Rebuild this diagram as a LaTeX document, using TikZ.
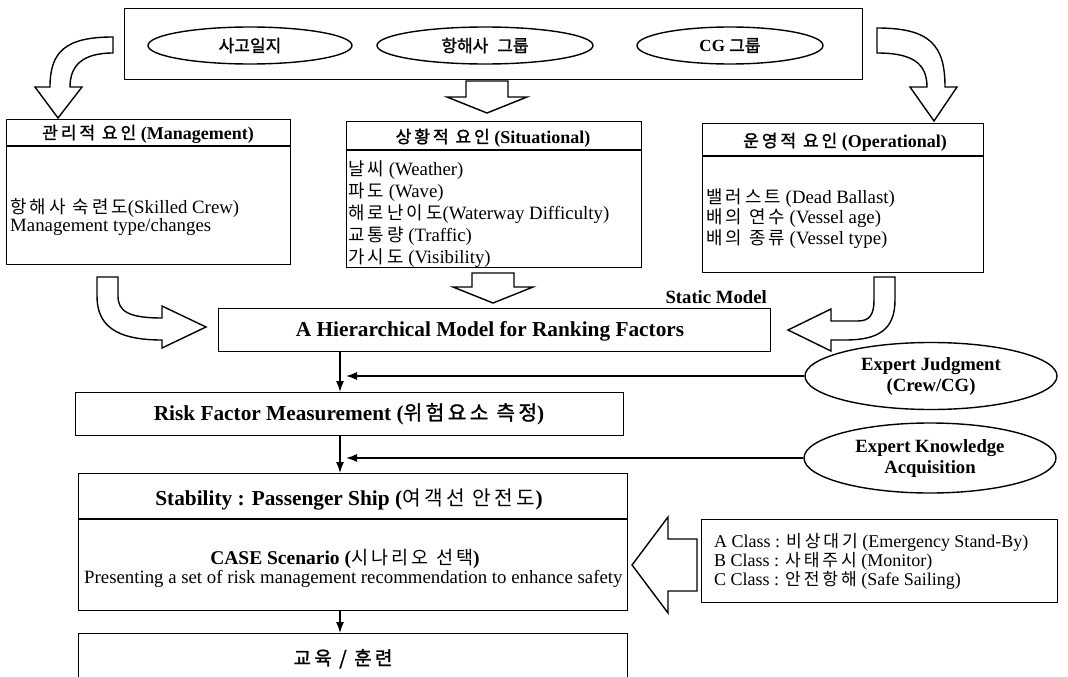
\documentclass[tikz,border=0pt]{standalone}
\usepackage{fontspec}
\setmainfont{Liberation Serif}
\newfontfamily\hangul[Scale=0.95,LetterSpace=17]{Noto Sans CJK KR}
\newfontfamily\hangulbold[Scale=0.95,LetterSpace=17,FakeBold=1.5]{Noto Sans CJK KR}
\newfontfamily\hangultight[FakeBold=1.5]{Noto Sans CJK KR}
\newcommand\ko[1]{{\hangul\mdseries #1}}
\newcommand\kob[1]{{\hangulbold\mdseries #1}}
\newcommand\kot[1]{{\hangultight\mdseries #1}}
\usetikzlibrary{arrows.meta,shapes.geometric}
\tikzset{
  frame/.style 2 args={draw, line width=1.4pt, rectangle, inner sep=0pt,
    anchor=north west, minimum width=#1pt, minimum height=#2pt},
  rule/.style={line width=1.4pt},
  hollow/.style={draw, fill=white, line width=1.4pt, line join=miter},
  link/.style={line width=1.3pt, -{Latex[length=11pt,width=8pt]}},
  oval/.style={draw, ellipse, line width=1.4pt, inner sep=0pt},
  txt/.style={inner sep=0pt, anchor=base west, font=\fontsize{18.8}{21}\selectfont},
  hdr/.style={inner sep=0pt, anchor=base, font=\bfseries\fontsize{18}{20}\selectfont},
  heading/.style={inner sep=0pt, anchor=base, font=\bfseries\fontsize{21.3}{23}\selectfont},
  srclabel/.style={font=\bfseries\fontsize{17}{18}\selectfont},
  expert/.style={oval, align=center, font=\bfseries\fontsize{18.7}{21}\selectfont},
  classline/.style={txt, font=\fontsize{18}{19}\selectfont},
}
\begin{document}
\begin{tikzpicture}[x=1pt,y=-1pt]
\useasboundingbox (0,0) rectangle (1068,677);

% ---- data sources ----
\node[frame={738}{71}] (src) at (124,8) {};
\node[oval, srclabel, minimum width=204pt, minimum height=37pt] (log) at (250,45.5) {\kot{사고일지}};
\node[oval, srclabel, minimum width=216pt, minimum height=37pt] (crew) at (485,45.5) {\kot{항해사\hspace{9pt}그룹}};
\node[oval, srclabel, minimum width=186pt, minimum height=37pt] (cg) at (730,45.5) {CG \kot{그룹}};

% ---- hollow arrows from the sources to the factor groups ----
\draw[hollow] (113,53) -- (113,37) .. controls (65,37) and (50,52) .. (50,87)
  -- (35,87) -- (58,118) -- (82,87) -- (70,87) .. controls (70,66) and (82,53) .. (113,53) -- cycle;
\draw[hollow] (877,53) -- (877,28) .. controls (930,28) and (945,45) .. (945,87)
  -- (957,87) -- (934,121) -- (910,87) -- (927,87) .. controls (927,63) and (912,53) .. (877,53) -- cycle;
\draw[hollow] (466,81) -- (508,81) -- (508,97) -- (527,97) -- (487,113) -- (447,97) -- (466,97) -- cycle;

% ---- factor groups ----
\node[frame={284}{145}] (mgmt) at (6,119) {};
\draw[rule] (mgmt.west |- 0,146) -- (mgmt.east |- 0,146);
\node[hdr] (mgmtH) at (148,139) {\kob{관리적 요인} (Management)};
\node[txt] (mgmt1) at (10,213.5) {\ko{항해사 숙련도}(Skilled Crew)};
\node[txt] (mgmt2) at (10,231.5) {Management type/changes};

\node[frame={295}{146}] (sit) at (346,121) {};
\draw[rule] (sit.west |- 0,150) -- (sit.east |- 0,150);
\node[hdr] (sitH) at (493,143) {\kob{상황적 요인} (Situational)};
\node[txt] (sit1) at (348,175.5) {\ko{날씨} (Weather)};
\node[txt] (sit2) at (348,197.5) {\ko{파도} (Wave)};
\node[txt] (sit3) at (348,219.5) {\ko{해로난이도}(Waterway Difficulty)};
\node[txt] (sit4) at (348,241.5) {\ko{교통량} (Traffic)};
\node[txt] (sit5) at (348,263.5) {\ko{가시도} (Visibility)};

\node[frame={281}{149}] (ops) at (702,123) {};
\draw[rule] (ops.west |- 0,156) -- (ops.east |- 0,156);
\node[hdr] (opsH) at (845,147) {\kob{운영적 요인} (Operational)};
\node[txt] (ops1) at (706,203.5) {\ko{밸러스트} (Dead Ballast)};
\node[txt] (ops2) at (706,223.5) {\ko{배의 연수} (Vessel age)};
\node[txt] (ops3) at (706,244.5) {\ko{배의 종류} (Vessel type)};

% ---- hollow arrows into the hierarchical model ----
\draw[hollow] (97,277) -- (118,277) -- (118,296) .. controls (118,311) and (128,318) .. (162,318)
  -- (162,306) -- (206,327) -- (162,348) -- (162,340) .. controls (115,340) and (97,325) .. (97,296) -- cycle;
\draw[hollow] (472,273) -- (514,273) -- (514,287) -- (533,287) -- (493,303) -- (453,287) -- (472,287) -- cycle;
\draw[hollow] (874,277) -- (895,277) -- (895,300) .. controls (895,330) and (878,340) .. (845,340)
  -- (831,340) -- (831,351) -- (788,330) -- (831,309) -- (831,321) -- (858,321)
  .. controls (870,321) and (874,314) .. (874,300) -- cycle;

% ---- model chain ----
\node[frame={552}{43}] (hier) at (218,308) {};
\node[heading] (hierT) at (490,336.5) {A Hierarchical Model for Ranking Factors};
\node[inner sep=0pt, anchor=base east, font=\bfseries\fontsize{18.7}{20}\selectfont] (static) at (767,303) {Static Model};

\node[frame={548}{43}] (risk) at (75,392) {};
\node[heading] (riskT) at (349,420) {Risk Factor Measurement (\kob{위험요소 측정})};

\node[frame={549}{137}] (stab) at (78,473) {};
\draw[rule] (stab.west |- 0,519) -- (stab.east |- 0,519);
\node[heading] (stabT) at (349,505) {Stability : Passenger Ship (\ko{여객선 안전도})};
\node[inner sep=0pt, anchor=base, font=\bfseries\fontsize{19.5}{21}\selectfont] (caseT) at (345,564) {CASE Scenario (\ko{시나리오 선택})};
\node[txt] (caseD) at (84,583.5) {Presenting a set of risk management recommendation to enhance safety};

\node[frame={549}{90}] (edu) at (78,633) {};
\node[inner sep=0pt, anchor=base, font=\fontsize{20}{22}\selectfont] (eduT) at (343,665) {\kob{교육 / 훈련}};

% ---- expert inputs ----
\node[expert, minimum width=252pt, minimum height=67pt] (ej) at (931,376) {Expert Judgment\\(Crew/CG)};
\node[expert, minimum width=252pt, minimum height=70pt] (ek) at (930,458) {Expert Knowledge\\Acquisition};

% ---- scenario classes ----
\node[frame={356}{83}] (cls) at (701,519) {};
\node[classline] (clsA) at (714,547) {A Class : \ko{비상대기} (Emergency Stand-By)};
\node[classline] (clsB) at (714,566) {B Class : \ko{사태주시} (Monitor)};
\node[classline] (clsC) at (714,585) {C Class : \ko{안전항해} (Safe Sailing)};
\draw[hollow] (697,539) -- (697,591) -- (668,591) -- (668,613) -- (632,565) -- (668,517) -- (668,539) -- cycle;

% ---- thin connectors ----
\coordinate (spine) at (340,0);
\coordinate (j1) at (346,376);
\coordinate (j2) at (346,458);
\draw[link] (hier.south -| spine) -- (risk.north -| spine);
\draw[link] (risk.south -| spine) -- (stab.north -| spine);
\draw[link] (stab.south -| spine) -- (edu.north -| spine);
\draw[link] (ej.west) -- (j1);
\draw[link] (ek.west) -- (j2);
\end{tikzpicture}
\end{document}
